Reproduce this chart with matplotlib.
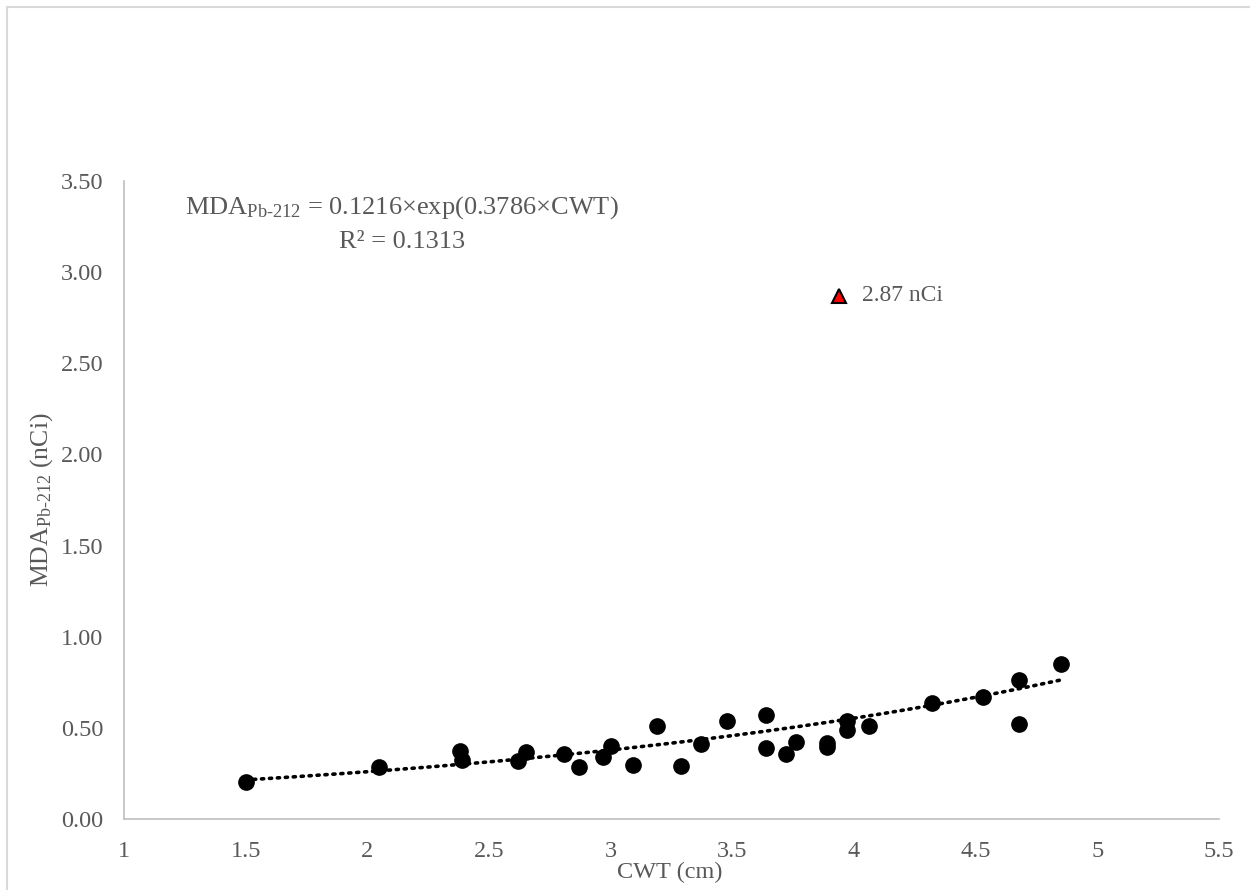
import matplotlib
matplotlib.use("Agg")
import matplotlib.pyplot as plt
import numpy as np
from matplotlib.patches import Rectangle

plt.rcParams['font.family'] = ['Liberation Serif', 'DejaVu Serif']
plt.rcParams['mathtext.fontset'] = 'custom'
plt.rcParams['mathtext.rm'] = 'Liberation Serif'
plt.rcParams['mathtext.it'] = 'Liberation Serif:italic'
plt.rcParams['mathtext.bf'] = 'Liberation Serif:bold'

# Data
cwt = [1.50, 2.05, 2.38, 2.39, 2.62, 2.65, 2.81, 2.87, 2.97, 3.00, 3.09, 3.19,
       3.29, 3.37, 3.48, 3.64, 3.64, 3.72, 3.76, 3.89, 3.89, 3.97, 3.97, 4.06,
       4.32, 4.53, 4.68, 4.68, 4.85]
mda = [0.205, 0.285, 0.373, 0.324, 0.318, 0.366, 0.357, 0.284, 0.342, 0.402, 0.296, 0.508,
       0.291, 0.410, 0.538, 0.572, 0.391, 0.355, 0.424, 0.415, 0.393, 0.538, 0.488, 0.512,
       0.635, 0.669, 0.764, 0.521, 0.852]
outlier_x = [3.94]
outlier_y = [2.87]
fit_a, fit_b = 0.1216, 0.3786
x_ticks = [1, 1.5, 2, 2.5, 3, 3.5, 4, 4.5, 5, 5.5]
x_tick_labels = ['1', '1.5', '2', '2.5', '3', '3.5', '4', '4.5', '5', '5.5']
y_ticks = [0, 0.5, 1.0, 1.5, 2.0, 2.5, 3.0, 3.5]
y_tick_labels = ['0.00', '0.50', '1.00', '1.50', '2.00', '2.50', '3.00', '3.50']

gray = '#595959'
fig = plt.figure(figsize=(12.5, 8.9), dpi=100)
ax = fig.add_axes([124/1250, 1 - 819/890, (1219-124)/1250, (819-181)/890])

# trendline
xf = np.linspace(min(cwt), max(cwt), 200)
ax.plot(xf, fit_a*np.exp(fit_b*xf), linestyle=(0, (0.6, 1.6)), color='black',
        linewidth=2.6, dash_capstyle='round', zorder=2)
ax.plot(cwt, mda, 'o', color='black', markersize=11, zorder=3)
ax.plot(outlier_x, outlier_y, '^', markerfacecolor='#FF0000', markeredgecolor='black',
        markeredgewidth=1.5, markersize=10, zorder=3)
ax.annotate('2.87 nCi', (outlier_x[0], outlier_y[0]), xytext=(16, 0), textcoords='offset points',
            va='center', ha='left', fontsize=17, color=gray)

ax.set_xlim(1, 5.5)
ax.set_ylim(0, 3.5)
ax.set_xticks(x_ticks)
ax.set_xticklabels(x_tick_labels)
ax.set_yticks(y_ticks)
ax.set_yticklabels(y_tick_labels)
ax.tick_params(length=0, labelsize=17.5, labelcolor=gray)
ax.tick_params(axis='x', pad=16)
ax.tick_params(axis='y', pad=15)
for s in ['top', 'right']:
    ax.spines[s].set_visible(False)
for s in ['left', 'bottom']:
    ax.spines[s].set_color('#BFBFBF')
    ax.spines[s].set_linewidth(1.2)

fig.text(670/1250, 1 - 872/890, 'CWT (cm)', ha='center', va='center', fontsize=17.5, color=gray)
fig.text(42/1250, 1 - 500/890, r'MDA$_{\text{Pb-212}}$ (nCi)', ha='center', va='center',
         rotation=90, fontsize=18.5, color=gray)

fig.text(402/1250, 1 - 208/890, r'MDA$_{\text{Pb-212}}$ = 0.1216×exp(0.3786×CWT)',
         ha='center', va='center', fontsize=19, color=gray)
fig.text(402/1250, 1 - 242/890, 'R² = 0.1313', ha='center', va='center', fontsize=19, color=gray)

# chart border
fig.patches.append(Rectangle((7/1250, -0.01), 1.1, 1 - 7/890 + 0.01, transform=fig.transFigure,
                             fill=False, edgecolor='#D9D9D9', linewidth=1.5))

fig.savefig('out.png', dpi=100)
